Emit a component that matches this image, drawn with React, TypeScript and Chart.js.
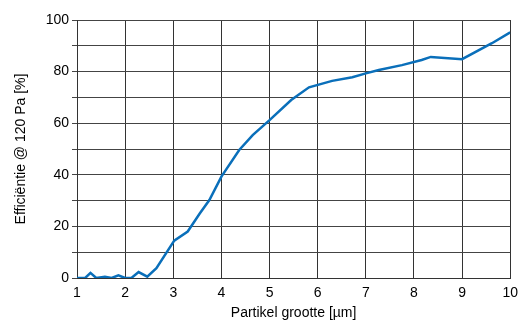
import React, { useEffect, useRef } from "react";
import { Chart, registerables } from "chart.js";

Chart.register(...registerables);

const particleSize = [1.0, 1.17, 1.28, 1.4, 1.58, 1.72, 1.86, 2.0, 2.13, 2.28, 2.46, 2.65, 3.02, 3.3, 3.55, 3.75, 4.0, 4.37, 4.65, 5.0, 5.45, 5.82, 6.3, 6.72, 7.0, 7.27, 7.75, 8.16, 8.35, 9.0, 9.62, 10.0];
const efficiency = [0, 0, 2, 0, 0.5, 0, 1, 0, 0, 2.3, 0.5, 3.8, 14.5, 18, 25, 30.2, 39.3, 49.6, 55.4, 61.2, 69, 73.9, 76.4, 77.8, 79.3, 80.6, 82.5, 84.5, 85.7, 84.8, 91, 95.2];

const xTitle = "Partikel grootte [µm]";
const yTitle = "Efficiëntie @ 120 Pa [%]";

export default function App() {
  const ref = useRef<HTMLCanvasElement>(null);
  useEffect(() => {
    document.body.style.margin = "0";
    const font = { family: "'Liberation Sans', Arial, sans-serif", size: 14 };
    const chart = new Chart(ref.current!, {
      type: "line",
      data: {
        datasets: [
          {
            data: particleSize.map((x, i) => ({ x, y: efficiency[i] })),
            borderColor: "#0a6fba",
            borderWidth: 2.5,
            pointRadius: 0,
            tension: 0,
            fill: false,
          },
        ],
      },
      options: {
        animation: false,
        responsive: false,
        layout: { padding: { top: 20, right: 14, left: 0, bottom: 0 } },
        plugins: { legend: { display: false }, tooltip: { enabled: false } },
        scales: {
          x: {
            type: "linear",
            min: 1,
            max: 10,
            afterFit: (s: any) => { s.height = 47; },
            ticks: { stepSize: 1, color: "#000", font, padding: 7 },
            grid: { color: "#333", lineWidth: 1, drawTicks: false },
            border: { color: "#333", width: 1 },
            title: { display: true, text: xTitle, color: "#000", font, padding: { top: 2, bottom: 3 } },
          },
          y: {
            min: 0,
            max: 100,
            afterFit: (s: any) => { s.width = 77; },
            ticks: {
              stepSize: 10,
              color: "#000",
              font,
              padding: 3,
              callback: (v: any) => (Number(v) % 20 === 0 ? String(v) : ""),
            },
            grid: { color: "#444", lineWidth: 1, drawTicks: true, tickLength: 5 },
            border: { color: "#333", width: 1 },
            title: { display: true, text: yTitle, color: "#000", font, padding: { top: 13, bottom: 8 } },
          },
        },
      },
    });
    return () => chart.destroy();
  }, []);
  return <canvas ref={ref} width={525} height={325} style={{ display: "block" }} />;
}
